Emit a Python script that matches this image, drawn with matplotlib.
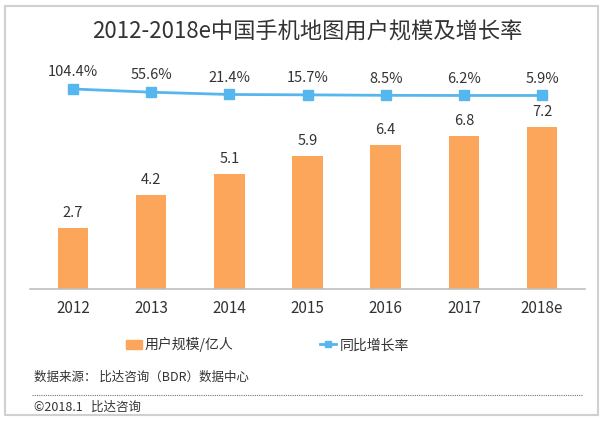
import numpy as np
import matplotlib.pyplot as plt
from matplotlib.patches import Rectangle
from matplotlib.lines import Line2D

plt.rcParams['font.family'] = ['Noto Sans CJK SC', 'DejaVu Sans']

years = ['2012', '2013', '2014', '2015', '2016', '2017', '2018e']
users = [2.7, 4.2, 5.1, 5.9, 6.4, 6.8, 7.2]
growth = [104.4, 55.6, 21.4, 15.7, 8.5, 6.2, 5.9]

bar_color = '#FBA65A'
line_color = '#56B6EE'
text_color = '#333333'

fig = plt.figure(figsize=(6.14, 4.23), dpi=100)
ax = fig.add_axes([0.0489, 0.3168, 0.904, 0.5414])
x = np.arange(len(years))

ax.bar(x, users, width=0.39, color=bar_color, zorder=2)
for xi, v in zip(x, users):
    ax.text(xi, v + 0.35, f'{v:.1f}', ha='center', va='bottom', fontsize=10.5, color=text_color)
ax.set_xlim(-0.55, 6.55)
ax.set_ylim(0, 10.18)
ax.set_xticks(x)
ax.set_xticklabels(years, fontsize=11, color=text_color)
ax.tick_params(axis='x', length=0, pad=8)
ax.set_yticks([])
for s in ['top', 'left', 'right']:
    ax.spines[s].set_visible(False)
ax.spines['bottom'].set_color('#bfbfbf')
ax.spines['bottom'].set_linewidth(1.2)

ax2 = ax.twinx()
ax2.plot(x, growth, color=line_color, lw=2, marker='s', markersize=6.5, zorder=3)
ax2.set_ylim(-2926, 544)
for xi, g in zip(x, growth):
    ax2.annotate(f'{g}%', (xi, g), xytext=(0, 7), textcoords='offset points',
                 ha='center', va='bottom', fontsize=10.5, color=text_color)
ax2.set_yticks([])
for s in ax2.spines.values():
    s.set_visible(False)

fig.text(0.5, 0.925, '2012-2018e中国手机地图用户规模及增长率', ha='center', va='center',
         fontsize=16, color=text_color)

handles = [Rectangle((0, 0), 1, 1, color=bar_color),
           Line2D([0], [0], color=line_color, lw=2, marker='s', markersize=5)]
fig.legend(handles, ['用户规模/亿人', '同比增长率'], loc='center', bbox_to_anchor=(0.435, 0.185),
           ncol=2, frameon=False, fontsize=10, columnspacing=6.2, handlelength=1.2,
           handletextpad=0.2, labelcolor=text_color)

fig.text(0.055, 0.108, '数据来源： 比达咨询（BDR）数据中心', fontsize=9, color=text_color, va='center')
fig.add_artist(Line2D([0.052, 0.948], [0.066, 0.066], color='#777777', lw=0.8,
                      linestyle=(0, (1, 1)), transform=fig.transFigure))
fig.text(0.055, 0.038, '©2018.1   比达咨询', fontsize=9, color=text_color, va='center')

fig.add_artist(Rectangle((0.008, 0.018), 0.966, 0.968, transform=fig.transFigure,
                         fill=False, edgecolor='#d0d0d0', lw=1.5))

fig.savefig('out.png', dpi=100)
